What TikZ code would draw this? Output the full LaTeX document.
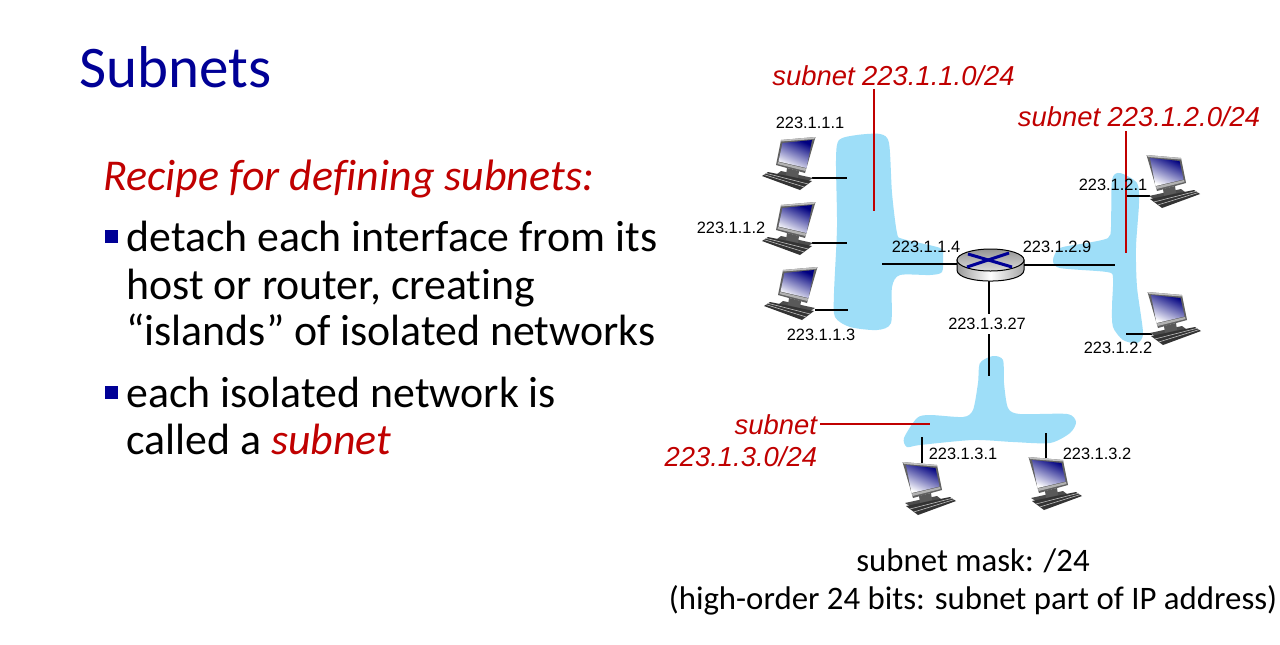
\documentclass[tikz,border=0pt]{standalone}
\usepackage{fontspec}
\setmainfont[Ligatures=NoCommon]{Carlito}
\newfontfamily\lab{Liberation Sans}
\usetikzlibrary{calc}
\definecolor{titleblue}{RGB}{0,0,150}
\definecolor{redtxt}{RGB}{192,0,0}
\definecolor{cloud}{RGB}{158,222,248}
\tikzset{
 x=0.5pt,y=-0.5pt,
 bodytxt/.style={anchor=base west,inner sep=0,outer sep=0,font=\fontsize{21.9}{24}\selectfont},
 iplabel/.style={inner sep=0,outer sep=0,anchor=base,font=\lab\fontsize{8.2}{10}\selectfont},
 redlabel/.style={inner sep=0,outer sep=0,anchor=base,text=redtxt,font=\lab\itshape\fontsize{13.7}{16}\selectfont},
 blob/.style={fill=cloud,draw=none},
 wire/.style={draw=black,line width=0.85pt},
 thinwire/.style={draw=black,line width=0.6pt},
 redwire/.style={draw=redtxt,line width=1pt},
 bulletsq/.style={fill=titleblue,draw=none},
 pc/.pic={
  \fill[black!70] (2,41) -- (34,34) -- (38,37) -- (10,46) -- cycle;
  \fill[black!65] (16,34) -- (28,31) -- (29,38) -- (17,41) -- cycle;
  \fill[black!62] (-0.5,0) -- (34,3) -- (39,28) -- (10,36) -- cycle;
  \fill[black!25] (-0.5,0) -- (34,3) -- (34,4.5) -- (1,2) -- cycle;
  \shade[shading=axis,top color=blue!50!black,bottom color=white,shading angle=-25] (3,3) -- (32.5,6) -- (36.5,24.5) -- (8.5,31) -- cycle;
  \fill[black!30] (9,31.5) -- (37,25) -- (37.5,27) -- (9.5,34) -- cycle;
  \fill[black!80] (3,44) -- (47,35) -- (53,39) -- (15,53) -- cycle;
  \foreach \t in {0.33,0.66}{
   \draw[black!25,line width=0.3pt] ($(3,44)!\t!(15,53)$) -- ($(47,35)!\t!(53,39)$);}
 }
}
\begin{document}
\begin{tikzpicture}
\useasboundingbox (0,0) rectangle (1280,644);
\fill[white] (0,0) rectangle (1280,644);
% blobs
\fill[blob] plot[smooth cycle,tension=0.45] coordinates {(839,140)(857,135)(880,134)(889,143)(892,193)(897,233)(903,239)(940,248)(943,257)(942,272)(930,275)(900,275)(892,287)(891,323)(877,330)(850,327)(835,317)(834,293)(837,227)(836,160)};
\fill[blob] plot[smooth cycle,tension=0.45] coordinates {(1112,180)(1120,173)(1137,183)(1139,203)(1136,247)(1137,287)(1143,333)(1137,343)(1123,340)(1113,327)(1112,307)(1113,278)(1107,272)(1060,268)(1053,260)(1060,248)(1087,243)(1108,238)(1111,227)};
\fill[blob] plot[smooth cycle,tension=0.45] coordinates {(980,363)(993,356)(1003,360)(1004,383)(1008,408)(1020,414)(1067,414)(1076,422)(1070,433)(1050,443)(1013,442)(973,440)(920,445)(907,447)(904,438)(917,418)(930,415)(963,417)(973,410)(978,383)};
% free ends
\coordinate (e1) at (847,178);
\coordinate (e2) at (847,243);
\coordinate (e3) at (848,310);
\coordinate (e4) at (882,264);
\coordinate (e5) at (1115,265);
\coordinate (e6) at (989,376);
\coordinate (e7) at (1127,196);
\coordinate (e8) at (1126,334);
\coordinate (e9) at (922,437);
\coordinate (e10) at (1046,433);
\coordinate (c1) at (812,178);
\coordinate (c2) at (812,243);
\coordinate (c3) at (815,310);
\coordinate (c4) at (1150,196);
\coordinate (c5) at (1152,334);
\coordinate (c6) at (922,463);
\coordinate (c7) at (1046,458);
\coordinate (r1) at (957,264);
\coordinate (r2) at (1024,265);
\coordinate (r3) at (989,281);
% wires
\draw[wire] (c1) -- (e1);
\draw[wire] (c2) -- (e2);
\draw[wire] (c3) -- (e3);
\draw[wire] (r1) -- (e4);
\draw[wire] (r2) -- (e5);
\draw[wire] (r3) -- (e6);
\draw[thinwire] (c4) -- (e7);
\draw[thinwire] (c5) -- (e8);
\draw[wire] (c6) -- (e9);
\draw[wire] (c7) -- (e10);
% computers
\pic[xscale=-1] at (815,137) {pc};
\pic[xscale=-1] at (815,202) {pc};
\pic[xscale=-1] at (817,267) {pc};
\pic at (1147,155) {pc};
\pic at (1148,292) {pc};
\pic at (903,462) {pc};
\pic at (1029,457) {pc};
% router
\shade[left color=black!40,right color=black!35,middle color=white,draw=black,line width=0.5pt] (957,260) -- (957,270) .. controls (957,284.7) and (1024,284.7) .. (1024,270) -- (1024,260) -- cycle;
\shade[top color=black!42,bottom color=black!14,draw=black,line width=0.5pt] (990.5,260) ellipse[x radius=33.5,y radius=11];
\draw[titleblue,line width=1.5pt] (968,254) -- (1012,267);
\draw[titleblue,line width=1.5pt] (1009,253) -- (967,267);
% red wires
\coordinate (s1a) at (874,89);
\coordinate (s1b) at (874,211);
\coordinate (s2a) at (1126,131);
\coordinate (s2b) at (1126,253);
\coordinate (s3a) at (820,424);
\coordinate (s3b) at (930,424);
\draw[redwire] (s1a) -- (s1b);
\draw[redwire] (s2a) -- (s2b);
\draw[redwire,line width=0.6pt] (s3a) -- (s3b);
% ip labels
\node[iplabel] (a1) at (810,128) {223.1.1.1};
\node[iplabel] (a2) at (731,233) {223.1.1.2};
\node[iplabel] (a3) at (821,340) {223.1.1.3};
\node[iplabel] (a4) at (926,252) {223.1.1.4};
\node[iplabel] (a5) at (1113,190) {223.1.2.1};
\node[iplabel] (a6) at (1057,252) {223.1.2.9};
\node[iplabel] (a7) at (1118,353) {223.1.2.2};
\node[iplabel,fill=white,inner sep=2pt,anchor=center] (a8) at (987,324) {223.1.3.27};
\node[iplabel] (a9) at (963,459) {223.1.3.1};
\node[iplabel] (a10) at (1097,459) {223.1.3.2};
% red labels
\node[redlabel] (l1) at (893.5,85) {subnet 223.1.1.0/24};
\node[redlabel] (l2) at (1139,126) {subnet 223.1.2.0/24};
\node[redlabel,anchor=base east] (l3) at (817,434) {subnet};
\node[redlabel,anchor=base east] (l4) at (817,466) {223.1.3.0/24};
% text
\node[anchor=base west,inner sep=0,text=titleblue,font=\fontsize{29.5}{32}\selectfont] (title) at (79.5,87) {Subnets};
\node[bodytxt,text=redtxt,font=\itshape\fontsize{22}{24}\selectfont] (recipe) at (103,190) {Recipe for defining subnets:};
\fill[bulletsq] (105,230) rectangle (118,243);
\fill[bulletsq] (105,386) rectangle (118,399);
\node[bodytxt] (t1) at (126.5,251) {detach each interface from its};
\node[bodytxt] (t2) at (126.5,299) {host or router, creating};
\node[bodytxt] (t3) at (126.5,345) {“islands” of isolated networks};
\node[bodytxt] (t4) at (126.5,407) {each isolated network is};
\node[bodytxt] (t5) at (126.5,454) {called a \textcolor{redtxt}{\itshape subnet}};
\node[bodytxt,anchor=base,font=\fontsize{16.4}{18}\selectfont] (m1) at (973,571) {subnet mask: /24};
\node[bodytxt,anchor=base,font=\fontsize{16.4}{18}\selectfont] (m2) at (973,609) {(high-order 24 bits: subnet part of IP address)};
\end{tikzpicture}
\end{document}
